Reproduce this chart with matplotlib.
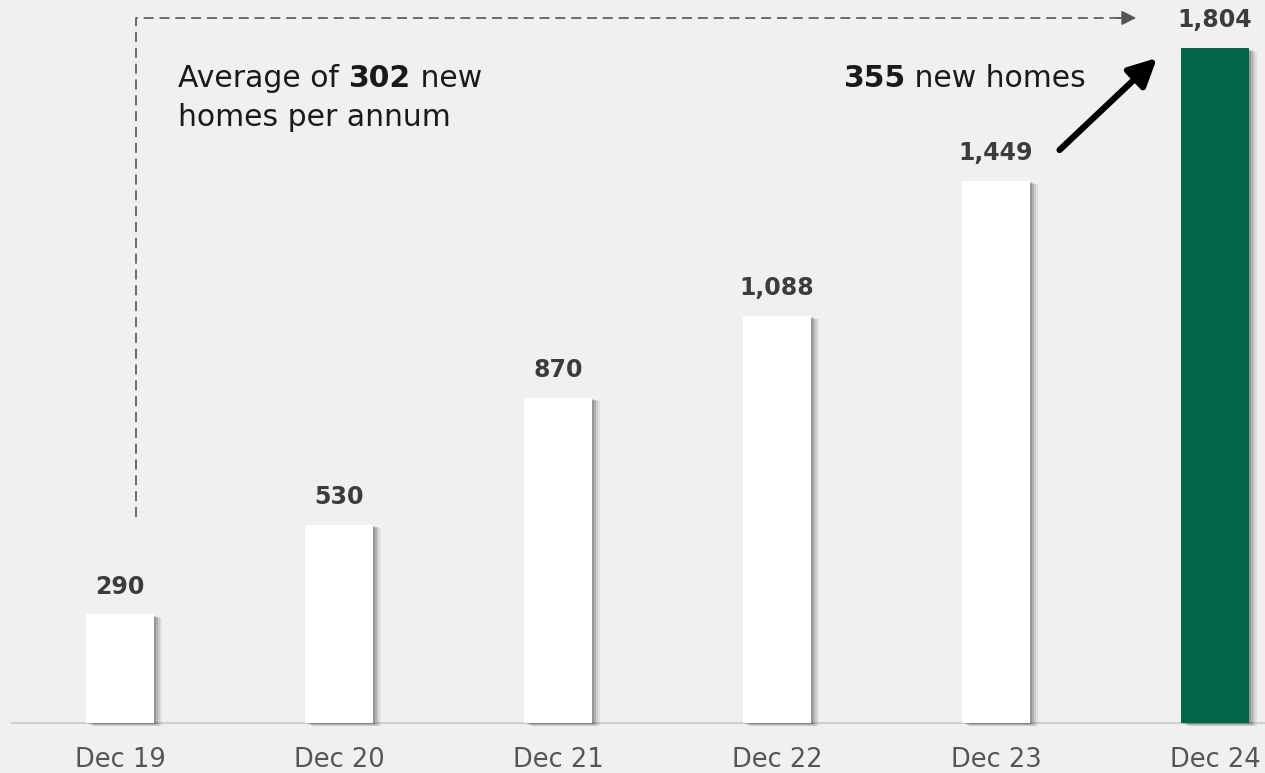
import numpy as np
import matplotlib.pyplot as plt
from matplotlib import patheffects as pe
from matplotlib.patches import FancyArrowPatch

plt.rcParams['font.family'] = ['DejaVu Sans']

# Data
periods = ['Dec 19', 'Dec 20', 'Dec 21', 'Dec 22', 'Dec 23', 'Dec 24']
homes = [290, 530, 870, 1088, 1449, 1804]
avg_per_annum = 302
last_year_added = 355

bg = '#f0f0f0'
green = '#006647'
label_col = '#3c3c3c'
text_col = '#1a1a1a'

fig = plt.figure(figsize=(12.65, 7.73), dpi=100)
fig.patch.set_facecolor(bg)
ax = fig.add_axes([0, 0, 1, 1])
ax.set_facecolor(bg)

x = np.arange(len(periods))
colors = ['white'] * (len(periods) - 1) + [green]
# soft drop shadow to the right of each bar
shadow = [pe.SimplePatchShadow(offset=(6, -2.5), shadow_rgbFace='#000000', alpha=0.06),
          pe.SimplePatchShadow(offset=(4.5, -2), shadow_rgbFace='#000000', alpha=0.09),
          pe.SimplePatchShadow(offset=(3, -1.5), shadow_rgbFace='#000000', alpha=0.13),
          pe.SimplePatchShadow(offset=(1.5, -1), shadow_rgbFace='#000000', alpha=0.15),
          pe.Normal()]
bars = ax.bar(x, homes, width=0.31, color=colors, zorder=3)
for b in bars:
    b.set_path_effects(shadow)

ax.set_xlim(-0.548, 5.228)
ax.set_ylim(-134, 1933)
ax.axis('off')

# baseline
ax.plot([-0.50, 5.3], [0, 0], color='#cfcfcf', lw=1.5, zorder=2, solid_capstyle='butt')

# value labels
for xi, v in zip(x, homes):
    ax.annotate(f'{v:,}', (xi, v), xytext=(0, 20), textcoords='offset points',
                ha='center', va='center', fontsize=17, fontweight='bold', color=label_col)

# category labels
for xi, p in zip(x, periods):
    ax.text(xi, -98, p, ha='center', va='center', fontsize=18.5, color='#555555')

# dashed bracket
dash_col = '#555555'
ax.plot([0.073, 0.073, 4.58], [551, 1885, 1885], color=dash_col, lw=1.2,
        ls=(0, (6, 3.5)), zorder=2)
ax.annotate('', xy=(4.64, 1885), xytext=(4.55, 1885),
            arrowprops=dict(arrowstyle='-|>', color=dash_col, lw=1.2,
                            mutation_scale=22, shrinkA=0, shrinkB=0))

# "Average of 302 new homes per annum"
fs = 21.5
t1 = ax.text(0.265, 1700, 'Average of ', fontsize=fs, color=text_col, va='baseline')
t2 = ax.annotate(f'{avg_per_annum}', xy=(1, 0), xycoords=t1, fontsize=fs,
                 fontweight='bold', color=text_col, va='bottom')
t3 = ax.annotate(' new', xy=(1, 0), xycoords=t2, fontsize=fs, color=text_col, va='bottom')
ax.text(0.265, 1596, 'homes per annum', fontsize=fs, color=text_col, va='baseline')

# "355 new homes"
t4 = ax.text(3.30, 1700, f'{last_year_added}', fontsize=fs, fontweight='bold',
             color=text_col, va='baseline')
ax.annotate(' new homes', xy=(1, 0), xycoords=t4, fontsize=fs, color=text_col, va='bottom')

arrow = FancyArrowPatch((4.29, 1532), (4.735, 1778), arrowstyle='-|>',
                        mutation_scale=42, lw=4.5, color='black', zorder=4,
                        shrinkA=0, shrinkB=0)
ax.add_patch(arrow)

fig.savefig('out.png', dpi=100, facecolor=bg)
